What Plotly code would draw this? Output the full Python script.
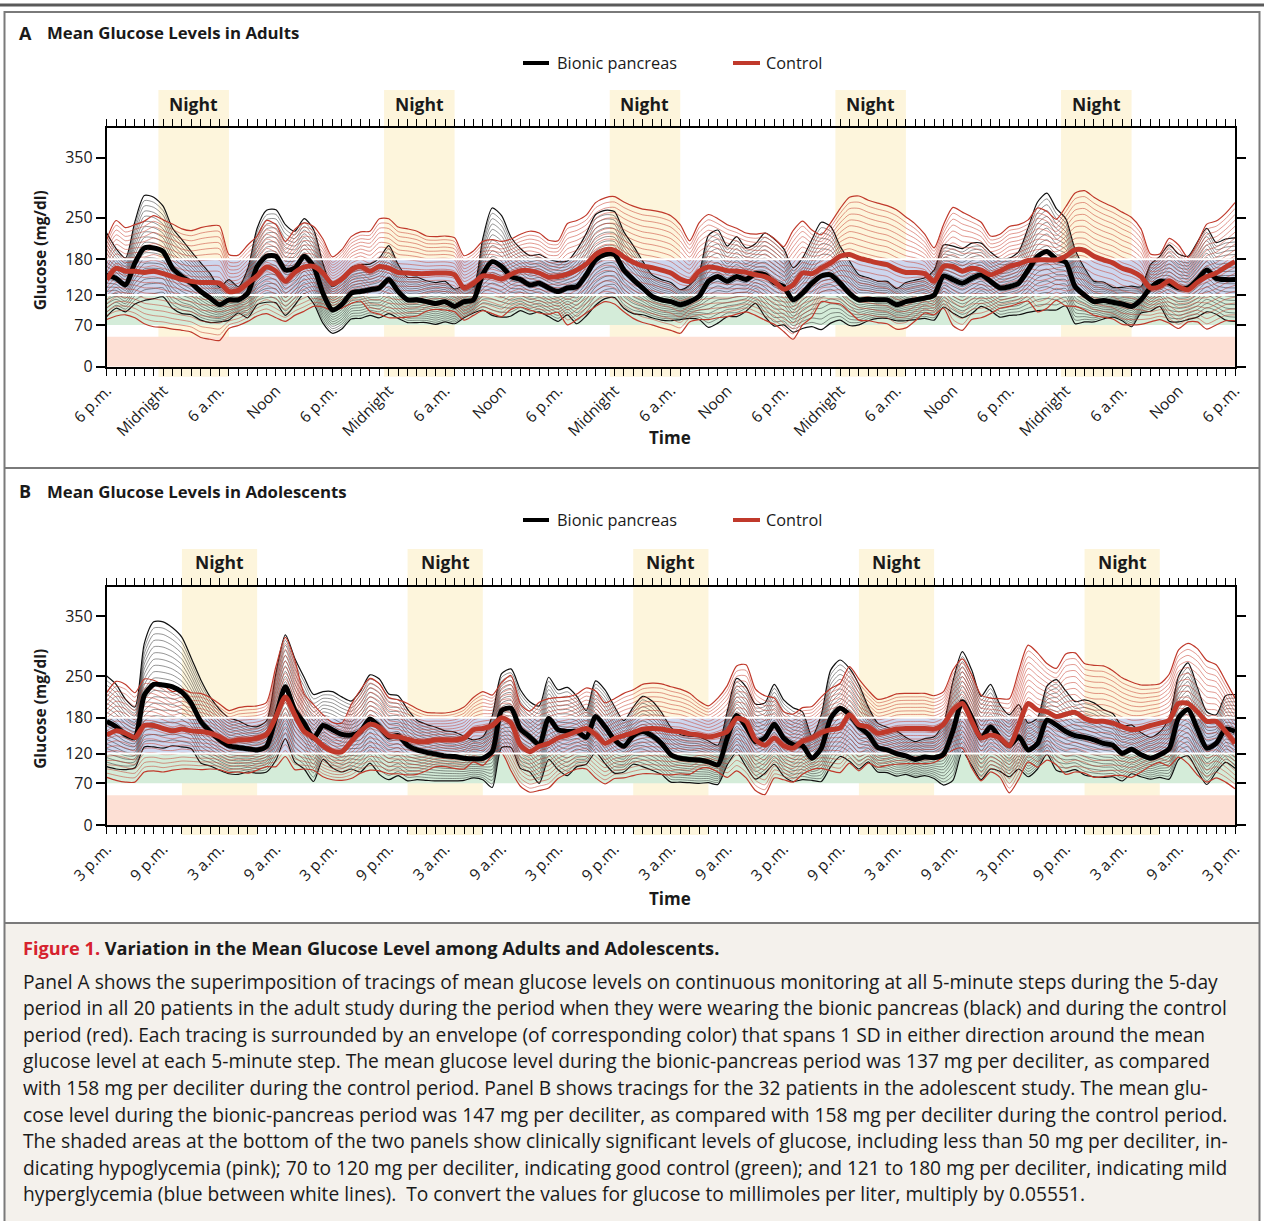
import plotly.graph_objects as go

W, H = 1264, 1221
HOURS = list(range(121))

# ---------------- data (mg/dl, hourly from start of recording) ----------------
adult_bionic_mean = [154,148,137,174,199,199,193,165,151,140,126,115,104,112,112,123,168,185,185,162,
                     165,185,168,123,95,104,123,126,129,132,146,126,112,112,109,106,109,101,109,112,
                     155,
                     176,168,151,146,137,140,132,126,132,134,154,179,188,188,162,146,132,118,112,109,
                     104,109,118,143,151,143,151,146,156,154,141,134,112,123,140,152,154,140,123,112,
                     113,112,112,104,109,112,115,120,152,146,140,148,154,143,132,134,140,162,185,193,
                     180,175,134,120,109,111,108,105,101,112,132,143,140,132,132,146,162,148,146,146]
adult_bionic_sd = [70,50,45,69,88,85,76,67,62,53,48,41,29,34,22,41,64,77,78,76,
                   62,63,62,50,39,41,43,45,43,50,57,45,38,38,35,35,34,29,27,22,
                   60,
                   90,85,66,52,49,48,48,50,45,62,69,76,74,72,64,57,45,36,34,32,
                   25,28,39,77,78,59,67,53,50,70,73,64,54,59,73,90,81,62,54,42,
                   36,31,31,27,32,33,34,42,52,56,58,59,53,49,49,48,53,71,91,98,
                   85,73,62,45,34,31,25,28,34,22,39,42,64,57,53,63,70,60,68,70]
adult_control_mean = [146,165,160,160,158,160,156,151,146,143,141,141,140,126,128,140,152,167,160,143,
                      158,167,168,157,139,147,162,168,160,168,165,158,157,156,156,157,157,154,132,140,
                      152,
                      151,147,155,161,161,157,150,151,155,162,172,188,196,195,184,175,169,166,162,157,
                      147,143,160,167,165,161,160,158,154,151,143,130,137,157,156,165,174,185,188,182,
                      178,174,171,163,158,158,156,143,168,168,160,165,162,154,160,168,172,178,179,179,
                      179,185,196,195,185,179,174,165,160,151,132,134,144,134,129,141,151,157,167,176]
adult_control_sd = [67,80,73,78,86,93,90,88,85,85,92,95,96,62,59,64,67,78,78,67,
                    72,74,67,57,45,49,56,58,67,80,83,76,74,71,63,61,62,62,54,54,
                    58,
                    62,63,59,61,66,67,62,60,85,83,82,87,87,90,92,94,95,96,97,96,
                    91,68,81,88,83,77,72,66,68,73,72,71,91,87,73,56,67,80,96,104,
                    101,100,99,100,93,81,66,56,70,99,99,86,80,65,62,67,66,68,87,81,
                    68,83,95,100,99,96,94,94,90,80,57,55,71,70,54,66,88,87,90,99]

adol_bionic_mean = [174,165,152,147,218,236,235,232,223,204,174,157,143,133,130,128,126,132,182,232,
                    193,171,146,167,160,152,151,157,178,165,148,150,134,126,122,119,116,115,112,111,
                    112,
                    123,192,196,161,148,135,179,160,157,157,147,182,165,143,132,150,157,150,137,118,
                    112,110,109,106,101,146,184,165,140,146,169,146,135,133,112,129,179,196,185,165,
                    152,130,126,120,116,110,114,113,119,158,207,180,146,165,146,133,148,126,137,176,
                    168,157,150,147,143,137,134,120,127,118,112,118,128,180,194,161,129,137,161,157]
adol_bionic_sd = [76,71,59,51,87,105,106,99,92,76,70,58,51,47,45,39,39,43,73,87,
                  87,77,73,57,64,63,57,68,74,80,72,67,60,50,47,45,42,41,37,32,
                  36,
                  60,62,66,66,59,65,69,67,74,59,45,60,62,56,43,48,59,58,52,46,
                  40,39,39,35,33,45,62,67,63,59,67,64,62,57,37,56,81,81,78,71,
                  46,41,38,38,31,30,31,35,52,83,84,80,70,71,56,52,54,45,43,57,
                  76,68,57,63,62,57,53,46,41,37,35,38,51,70,78,70,61,48,56,62]
adol_control_mean = [151,158,154,147,167,167,162,158,161,158,157,154,148,140,143,143,146,152,182,215,
                     185,157,147,133,124,123,140,157,169,164,150,148,144,140,140,143,143,143,146,160,
                     162,
                     167,180,171,134,123,132,137,146,151,157,162,152,137,145,150,155,161,162,161,158,
                     157,153,151,148,151,157,179,174,143,134,146,133,129,141,146,155,160,163,185,168,
                     165,154,157,161,162,162,162,161,169,193,204,174,146,151,146,133,168,204,193,190,
                     182,186,189,179,174,174,171,165,160,162,167,171,176,204,204,190,174,174,157,137]
adol_control_sd = [71,83,82,75,78,76,73,66,67,64,64,60,55,52,54,56,54,54,84,100,
                   92,63,55,52,48,48,62,70,77,73,64,62,60,55,49,45,45,48,52,54,
                   62,
                   51,59,80,69,68,74,75,68,64,63,68,73,68,67,71,72,75,76,76,74,
                   71,68,57,52,62,77,88,95,85,83,67,57,57,56,53,60,69,75,81,77,
                   61,57,57,59,59,59,59,56,55,67,75,78,72,62,66,79,91,98,96,81,
                   81,101,100,92,94,93,88,82,80,73,68,66,77,90,101,106,102,95,85,76]

adult_tick_labels = ["6 p.m.", "Midnight", "6 a.m.", "Noon"] * 5 + ["6 p.m."]
adol_tick_labels = ["3 p.m.", "9 p.m.", "3 a.m.", "9 a.m."] * 5 + ["3 p.m."]
adult_night_start = [5.5, 29.5, 53.5, 77.5, 101.5]
adult_night_len = 7.5
adol_night_start = [8, 32, 56, 80, 104]
adol_night_len = 8
y_ticks = [0, 70, 120, 180, 250, 350]
zones = [(0, 50, "#fde0d5"), (70, 120, "#d4ecd9"), (120, 180, "#cdd6ee")]

caption_title_red = "Figure 1."
caption_title = "Variation in the Mean Glucose Level among Adults and Adolescents."
caption_lines = [
    "Panel A shows the superimposition of tracings of mean glucose levels on continuous monitoring at all 5-minute steps during the 5-day",
    "period in all 20 patients in the adult study during the period when they were wearing the bionic pancreas (black) and during the control",
    "period (red). Each tracing is surrounded by an envelope (of corresponding color) that spans 1 SD in either direction around the mean",
    "glucose level at each 5-minute step. The mean glucose level during the bionic-pancreas period was 137 mg per deciliter, as compared",
    "with 158 mg per deciliter during the control period. Panel B shows tracings for the 32 patients in the adolescent study. The mean glu-",
    "cose level during the bionic-pancreas period was 147 mg per deciliter, as compared with 158 mg per deciliter during the control period.",
    "The shaded areas at the bottom of the two panels show clinically significant levels of glucose, including less than 50 mg per deciliter, in-",
    "dicating hypoglycemia (pink); 70 to 120 mg per deciliter, indicating good control (green); and 121 to 180 mg per deciliter, indicating mild",
    "hyperglycemia (blue between white lines).  To convert the values for glucose to millimoles per liter, multiply by 0.05551.",
]

# ---------------- styling ----------------
RED = "#c0392b"
FONT = "Open Sans"
TXT = "#1a1a1a"


def fx(p):
    return p / W


def fy(p):
    return 1 - p / H


panels = [
    dict(letter="A", title="Mean Glucose Levels in Adults", top=128.0, bottom=366.7, title_y=33, legend_y=63,
         night_y=104, night_top=90, time_y=437,
         bionic=(adult_bionic_mean, adult_bionic_sd), control=(adult_control_mean, adult_control_sd),
         labels=adult_tick_labels, nights=adult_night_start, night_len=adult_night_len),
    dict(letter="B", title="Mean Glucose Levels in Adolescents", top=586.7, bottom=825.0, title_y=491, legend_y=520,
         night_y=562, night_top=549, time_y=898,
         bionic=(adol_bionic_mean, adol_bionic_sd), control=(adol_control_mean, adol_control_sd),
         labels=adol_tick_labels, nights=adol_night_start, night_len=adol_night_len),
]

X_LEFT, X_RIGHT = 106.7, 1235.0

fig = go.Figure()
shapes = []
annotations = []

# frame
shapes.append(dict(type="rect", xref="paper", yref="paper", x0=fx(5), x1=fx(1259), y0=fy(1221), y1=fy(923),
                   fillcolor="#f4f1ec", line=dict(width=0), layer="below"))
shapes.append(dict(type="line", xref="paper", yref="paper", x0=0, x1=1, y0=fy(5), y1=fy(5),
                   line=dict(color="#5a5a5a", width=3)))
shapes.append(dict(type="rect", xref="paper", yref="paper", x0=fx(4.5), x1=fx(1259.5), y0=fy(1225), y1=fy(12),
                   line=dict(color="#7a7a7a", width=2), fillcolor="rgba(0,0,0,0)"))
for yy in (468, 923):
    shapes.append(dict(type="line", xref="paper", yref="paper", x0=fx(4.5), x1=fx(1259.5), y0=fy(yy), y1=fy(yy),
                       line=dict(color="#7a7a7a", width=2)))


def envelope(mean, sd, edge, hatch, xa, ya):
    xs, ys = [], []
    for k in range(-9, 10):
        if k == 0:
            continue
        xs += HOURS + [None]
        ys += [m + s * k / 10 for m, s in zip(mean, sd)] + [None]
    fig.add_trace(go.Scatter(x=xs, y=ys, mode="lines", xaxis=xa, yaxis=ya, hoverinfo="skip", showlegend=False,
                             line=dict(color=hatch, width=0.75, shape="spline", smoothing=0.7)))
    xs, ys = [], []
    for k in (-10, 10):
        xs += HOURS + [None]
        ys += [m + s * k / 10 for m, s in zip(mean, sd)] + [None]
    fig.add_trace(go.Scatter(x=xs, y=ys, mode="lines", xaxis=xa, yaxis=ya, hoverinfo="skip", showlegend=False,
                             line=dict(color=edge, width=1.2, shape="spline", smoothing=0.7)))


layout_axes = {}
for i, P in enumerate(panels):
    xa = "x" if i == 0 else "x2"
    ya = "y" if i == 0 else "y2"
    xkey = "xaxis" if i == 0 else "xaxis2"
    ykey = "yaxis" if i == 0 else "yaxis2"

    # night columns
    for s in P["nights"]:
        shapes.append(dict(type="rect", xref=xa, yref="paper", x0=s, x1=s + P["night_len"],
                           y0=fy(P["bottom"] + 10), y1=fy(P["night_top"]),
                           fillcolor="#fdf5dc", line=dict(width=0), layer="below"))
        annotations.append(dict(xref=xa, yref="paper", x=s + P["night_len"] / 2, y=fy(P["night_y"]),
                                text="<b>Night</b>", showarrow=False, font=dict(size=17.5, color=TXT),
                                xanchor="center", yanchor="middle"))
    # clinical zones
    for lo, hi, col in zones:
        shapes.append(dict(type="rect", xref=xa, yref=ya, x0=0, x1=120, y0=lo, y1=hi,
                           fillcolor=col, line=dict(width=0), layer="below"))

    bm, bs = P["bionic"]
    cm, cs = P["control"]
    envelope(bm, bs, "#111111", "rgba(25,25,25,0.62)", xa, ya)
    envelope(cm, cs, RED, "rgba(200,60,45,0.7)", xa, ya)
    for lvl in (120, 180):
        fig.add_trace(go.Scatter(x=[0, 120], y=[lvl, lvl], mode="lines", xaxis=xa, yaxis=ya, hoverinfo="skip",
                                 showlegend=False, line=dict(color="white", width=2)))
    fig.add_trace(go.Scatter(x=HOURS, y=bm, mode="lines", xaxis=xa, yaxis=ya, name="Bionic pancreas",
                             showlegend=False, line=dict(color="black", width=5, shape="spline", smoothing=0.7)))
    fig.add_trace(go.Scatter(x=HOURS, y=cm, mode="lines", xaxis=xa, yaxis=ya, name="Control",
                             showlegend=False, line=dict(color=RED, width=5, shape="spline", smoothing=0.7)))

    ticktext = [P["labels"][h // 6] if h % 6 == 0 else "" for h in HOURS]
    layout_axes[xkey] = dict(domain=[fx(X_LEFT), fx(X_RIGHT)], range=[0, 120], anchor=ya, automargin=False,
                             tickvals=HOURS, ticktext=ticktext, tickangle=-45, ticks="outside", ticklen=7,
                             tickwidth=1.2, tickcolor="black", showline=True, linecolor="black", linewidth=1.8,
                             mirror="ticks", showgrid=False, zeroline=False,
                             tickfont=dict(size=15.5, color=TXT, family=FONT))
    layout_axes[ykey] = dict(domain=[fy(P["bottom"]), fy(P["top"])], range=[0, 400], anchor=xa, automargin=False,
                             tickvals=y_ticks, ticks="outside", ticklen=9, tickwidth=1.5, tickcolor="black",
                             showline=True, linecolor="black", linewidth=1.8, mirror="ticks", showgrid=False,
                             zeroline=False, tickfont=dict(size=16, color=TXT, family=FONT))

    # titles
    annotations.append(dict(xref="paper", yref="paper", x=fx(17), y=fy(P["title_y"]), text="<b>%s</b>" % P["letter"],
                            showarrow=False, xanchor="left", yanchor="middle", font=dict(size=18, color=TXT)))
    annotations.append(dict(xref="paper", yref="paper", x=fx(45), y=fy(P["title_y"]), text="<b>%s</b>" % P["title"],
                            showarrow=False, xanchor="left", yanchor="middle", font=dict(size=16.8, color=TXT)))
    # legend
    ly = fy(P["legend_y"])
    shapes.append(dict(type="line", xref="paper", yref="paper", x0=fx(523), x1=fx(549), y0=ly, y1=ly,
                       line=dict(color="black", width=4)))
    shapes.append(dict(type="line", xref="paper", yref="paper", x0=fx(733), x1=fx(760), y0=ly, y1=ly,
                       line=dict(color=RED, width=4)))
    annotations.append(dict(xref="paper", yref="paper", x=fx(555), y=ly, text="Bionic pancreas", showarrow=False,
                            xanchor="left", yanchor="middle", font=dict(size=16.3, color=TXT)))
    annotations.append(dict(xref="paper", yref="paper", x=fx(764), y=ly, text="Control", showarrow=False,
                            xanchor="left", yanchor="middle", font=dict(size=16.3, color=TXT)))
    # axis titles
    annotations.append(dict(xref="paper", yref="paper", x=fx(670), y=fy(P["time_y"]), text="<b>Time</b>",
                            showarrow=False, xanchor="center", yanchor="middle", font=dict(size=17, color=TXT)))
    annotations.append(dict(xref="paper", yref="paper", x=fx(40), y=fy((P["top"] + P["bottom"]) / 2 + 3),
                            text="<b>Glucose (mg/dl)</b>", textangle=-90, showarrow=False,
                            xanchor="center", yanchor="middle", font=dict(size=15.5, color=TXT)))

# caption
annotations.append(dict(xref="paper", yref="paper", x=fx(21), y=fy(948),
                        text="<b><span style='color:#d6222e'>%s</span> %s</b>" % (caption_title_red, caption_title),
                        showarrow=False, xanchor="left", yanchor="middle", font=dict(size=18.2, color=TXT)))
for j, line in enumerate(caption_lines):
    annotations.append(dict(xref="paper", yref="paper", x=fx(21), y=fy(981 + j * 26.6), text=line,
                            showarrow=False, xanchor="left", yanchor="middle", font=dict(size=19.2, color=TXT)))

fig.update_layout(width=W, height=H, margin=dict(l=0, r=0, t=0, b=0, pad=0, autoexpand=False), autosize=False,
                  paper_bgcolor="white", plot_bgcolor="rgba(0,0,0,0)",
                  font=dict(family=FONT, color=TXT), showlegend=False,
                  shapes=shapes, annotations=annotations, **layout_axes)
fig.write_html("out.html", config={"responsive": False, "displayModeBar": False},
               post_script="document.body.style.margin='0px';document.body.style.padding='0px';"
                           "document.documentElement.style.overflow='hidden';")
